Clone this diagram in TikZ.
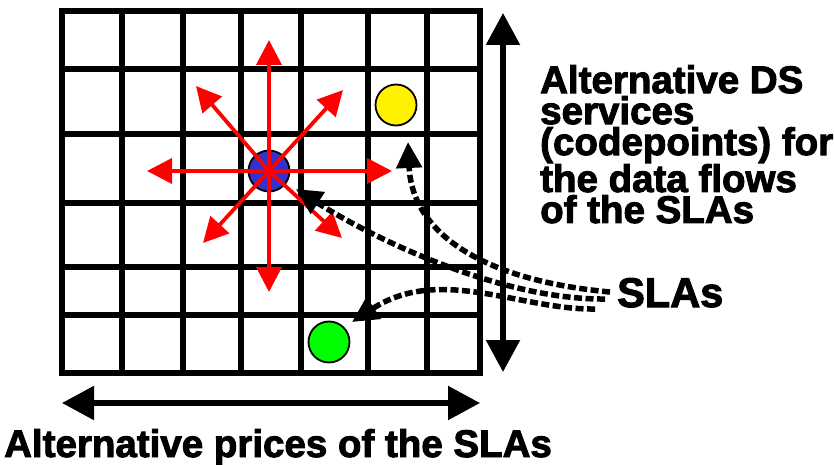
\documentclass[tikz,border=0pt]{standalone}
\usepackage{fontspec}
\setmainfont{Liberation Sans}
\newfontfamily\heavyfont{Liberation Sans Bold}[FakeBold=2.5]
\usetikzlibrary{arrows.meta,positioning}

\definecolor{dsblue}{RGB}{51,51,204}

\tikzset{
  gridline/.style={line width=6pt, line cap=rect},
  dot/.style={circle, draw=black, line width=1.8pt, minimum size=41pt, inner sep=0pt},
  redarrow/.style={draw=red, line width=3.8pt, -{Triangle[length=25pt,width=25pt]}},
  slaarrow/.style={line width=5.5pt, dash pattern=on 8pt off 3.5pt,
    -{Triangle[length=26pt,width=25pt]}},
  axisarrow/.style={line width=5.5pt,
    {Triangle[length=32pt,width=33pt]}-{Triangle[length=32pt,width=33pt]}},
  bigtext/.style={inner sep=0pt, font=\fontsize{38.5pt}{31pt}\selectfont\heavyfont},
}

\begin{document}
\begin{tikzpicture}[x=1pt,y=-1pt]
  \useasboundingbox (0,0) rectangle (834,465);

  % grid of alternatives (uneven cells)
  \foreach \x in {62,122,183,241,301,368,427,480}
    \draw[gridline] (\x,11) -- (\x,373);
  \foreach \y in {11,69,134,203,267,315,373}
    \draw[gridline] (62,\y) -- (480,\y);

  % SLAs as points in the grid
  \node[dot, fill=dsblue] (blue) at (269,171) {};
  \node[dot, fill=yellow] (yellow) at (396,105) {};
  \node[dot, fill=green] (green) at (329,342) {};

  % neighbouring choices
  \foreach \tx/\ty in {269/40, 269/292, 147/171, 392/171,
                       196/86, 343/90, 203/243, 342/238}
    \draw[redarrow] (blue.center) -- (\tx,\ty);

  % axes
  \coordinate (vtop) at (503,13);
  \coordinate (vbot) at (503,372);
  \draw[axisarrow] (vtop) -- (vbot);
  \coordinate (hleft) at (62,403);
  \coordinate (hright) at (480,403);
  \draw[axisarrow] (hleft) -- (hright);

  \node[bigtext, anchor=north west, align=left] (dslabel) at (540,65)
    {Alternative DS\\services\\(codepoints) for\\the data flows\\of the SLAs};
  \node[bigtext, anchor=base west] (pricelabel) at (4,457)
    {Alternative prices of the SLAs};
  \node[inner sep=0pt, anchor=base west, font=\fontsize{41.5pt}{44pt}\selectfont\heavyfont]
    (sla) at (617,307) {SLAs};

  % dashed pointers from the SLAs label
  \coordinate (sA) at (610,292);
  \coordinate (sB) at (605,299);
  \coordinate (sC) at (595,309);
  \coordinate (tipY) at (408,142);
  \coordinate (tipB) at (296,189);
  \coordinate (tipG) at (352,322);
  \draw[slaarrow] (sA) .. controls (480,280) and (412,232) .. (tipY);
  \draw[slaarrow] (sB) .. controls (500,300) and (372,238) .. (tipB);
  \draw[slaarrow] (sC) .. controls (520,310) and (440,265) .. (tipG);
\end{tikzpicture}
\end{document}
